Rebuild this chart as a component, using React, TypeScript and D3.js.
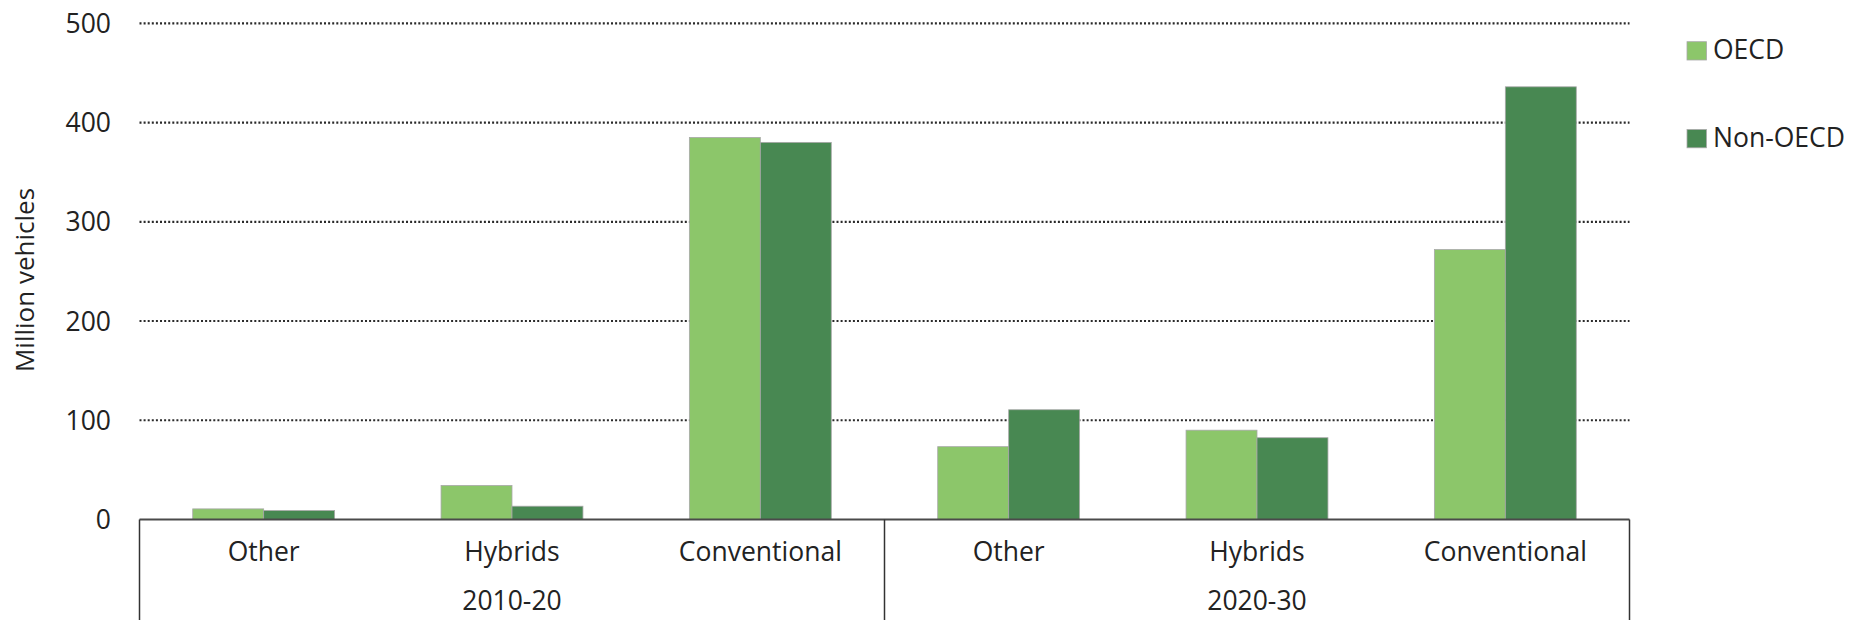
import React from "react";
import * as d3 from "d3";

const groups = ["2010-20", "2020-30"];
const categories = ["Other", "Hybrids", "Conventional"];
const seriesNames = ["OECD", "Non-OECD"];
const oecdValues = [10.7, 34.3, 385, 73.4, 90, 272];
const nonOecdValues = [9, 13.4, 380, 110.6, 82.4, 436];
const yTicks = [0, 100, 200, 300, 400, 500];
const yTitle = "Million vehicles";

const colors = ["#8CC66A", "#488852"];

export default function App() {
  const W = 1857;
  const H = 620;
  const left = 139.5;
  const right = 1629.5;
  const y0 = 519.5;
  const yTop = 23.3;

  const slots = groups.flatMap((g) => categories.map((c) => `${g}|${c}`));
  const x = d3.scaleBand<string>().domain(slots).range([left, right]).padding(0);
  const xs = d3
    .scaleBand<string>()
    .domain(seriesNames)
    .range([0, x.bandwidth()])
    .paddingInner(0)
    .paddingOuter(0.75);
  const y = d3.scaleLinear().domain([0, 500]).range([y0, yTop]);
  const gx = d3.scaleBand<string>().domain(groups).range([left, right]).padding(0);

  const values = [oecdValues, nonOecdValues];
  const font = "'Open Sans', sans-serif";

  return (
    <svg
      width={W}
      height={H}
      style={{ position: "absolute", left: 0, top: 0, display: "block", background: "#fff" }}
    >
      {/* gridlines */}
      {yTicks
        .filter((t) => t > 0)
        .map((t) => (
          <line
            key={"g" + t}
            x1={left}
            x2={right}
            y1={y(t)}
            y2={y(t)}
            stroke="#2a2a2a"
            strokeWidth={2.2}
            strokeDasharray="2,2.1"
          />
        ))}
      {/* y tick labels */}
      {yTicks.map((t) => (
        <text
          key={"t" + t}
          x={111}
          y={y(t)}
          dy="0.36em"
          textAnchor="end"
          fontFamily={font}
          fontSize={26.5}
          fill="#222"
        >
          {t}
        </text>
      ))}
      {/* y title */}
      <text
        transform={`translate(34,${280}) rotate(-90)`}
        textAnchor="middle"
        fontFamily={font}
        fontSize={26}
        fill="#222"
      >
        {yTitle}
      </text>
      {/* bars */}
      {slots.map((s, i) =>
        seriesNames.map((sn, k) => (
          <rect
            key={s + sn}
            x={(x(s) as number) + (xs(sn) as number)}
            y={y(values[k][i])}
            width={xs.bandwidth()}
            height={y0 - y(values[k][i])}
            fill={colors[k]}
            stroke="#a8a8a8"
            strokeWidth={0.8}
          />
        ))
      )}
      {/* axis line */}
      <line x1={left} x2={right} y1={y0} y2={y0} stroke="#4a4a4a" strokeWidth={2} />
      {/* group dividers */}
      {[left, ...groups.map((g) => (gx(g) as number) + gx.bandwidth())].map((xv, i) => (
        <line key={"v" + i} x1={xv} x2={xv} y1={y0} y2={H} stroke="#333" strokeWidth={1.5} />
      ))}
      {/* category labels */}
      {slots.map((s) => (
        <text
          key={"c" + s}
          x={(x(s) as number) + x.bandwidth() / 2}
          y={561}
          textAnchor="middle"
          fontFamily={font}
          fontSize={26.5}
          fill="#222"
        >
          {s.split("|")[1]}
        </text>
      ))}
      {/* group labels */}
      {groups.map((g) => (
        <text
          key={"gl" + g}
          x={(gx(g) as number) + gx.bandwidth() / 2}
          y={610}
          textAnchor="middle"
          fontFamily={font}
          fontSize={26.5}
          fill="#222"
        >
          {g}
        </text>
      ))}
      {/* legend */}
      {seriesNames.map((sn, k) => (
        <g key={"l" + sn} transform={`translate(1687,${k === 0 ? 41.7 : 129.5})`}>
          <rect width={19.5} height={18.3} fill={colors[k]} stroke="#a8a8a8" strokeWidth={0.8} />
          <text x={26} y={17.5} fontFamily={font} fontSize={26.5} fill="#222">
            {sn}
          </text>
        </g>
      ))}
    </svg>
  );
}
